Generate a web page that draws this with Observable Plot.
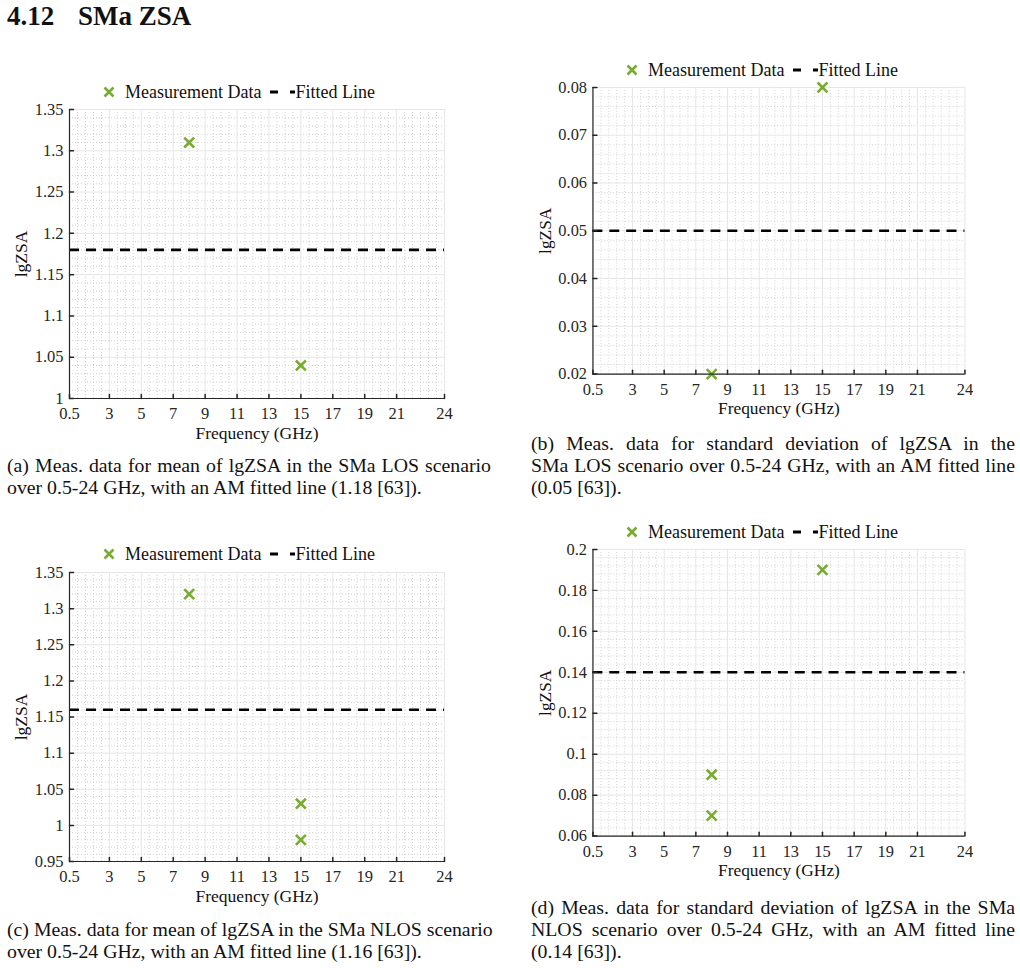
<!DOCTYPE html>
<html>
<head>
<meta charset="utf-8">
<script src="https://cdn.jsdelivr.net/npm/d3@7"></script>
<script src="https://cdn.jsdelivr.net/npm/@observablehq/plot@0.6"></script>
<style>
  body { margin: 0; background: #fff; width: 1020px; height: 968px; position: relative; overflow: hidden;
         font-family: "Liberation Serif", "DejaVu Serif", serif; color: #111; }
  .abs { position: absolute; }
  #title { left: 7px; top: 1px; font-size: 27px; font-weight: bold; white-space: nowrap; }
  #title .num { display: inline-block; width: 71px; }
  .legend { display: flex; align-items: center; font-size: 18px; white-space: nowrap; color: #111; height: 22px; }
  .legend svg { display: block; }
  .caption { font-size: 19.8px; line-height: 21.8px; width: 484px; }
  .caption div { text-align: justify; text-align-last: justify; white-space: nowrap; }
  .caption div.last { text-align-last: left; }
  .panel svg { overflow: visible; }
</style>
</head>
<body>
<div id="title" class="abs"><span class="num">4.12</span>SMa ZSA</div>
<div id="charts"></div>
<script>
// Frequency axis (GHz)
const xTicks = [0.5, 3, 5, 7, 9, 11, 13, 15, 17, 19, 21, 24];
const xMinor = d3.range(0.5, 24.001, 0.5).filter(v => !xTicks.includes(v));

// (a) mean of lgZSA, SMa LOS
const freqA = [8, 15];
const meanLos = [1.31, 1.04];
const fitMeanLos = 1.18;
const yTicksA = [1, 1.05, 1.1, 1.15, 1.2, 1.25, 1.3, 1.35];

// (b) standard deviation of lgZSA, SMa LOS
const freqB = [8, 15];
const stdLos = [0.02, 0.08];
const fitStdLos = 0.05;
const yTicksB = [0.02, 0.03, 0.04, 0.05, 0.06, 0.07, 0.08];

// (c) mean of lgZSA, SMa NLOS
const freqC = [8, 15, 15];
const meanNlos = [1.32, 1.03, 0.98];
const fitMeanNlos = 1.16;
const yTicksC = [0.95, 1, 1.05, 1.1, 1.15, 1.2, 1.25, 1.3, 1.35];

// (d) standard deviation of lgZSA, SMa NLOS
const freqD = [8, 8, 15];
const stdNlos = [0.09, 0.07, 0.19];
const fitStdNlos = 0.14;
const yTicksD = [0.06, 0.08, 0.1, 0.12, 0.14, 0.16, 0.18, 0.2];

const captions = {
  a: ["(a) Meas. data for mean of lgZSA in the SMa LOS scenario",
      "over 0.5-24 GHz, with an AM fitted line (1.18 [63])."],
  b: ["(b) Meas.  data for standard deviation of lgZSA in the",
      "SMa LOS scenario over 0.5-24 GHz, with an AM fitted line",
      "(0.05 [63])."],
  c: ["(c) Meas. data for mean of lgZSA in the SMa NLOS scenario",
      "over 0.5-24 GHz, with an AM fitted line (1.16 [63])."],
  d: ["(d) Meas. data for standard deviation of lgZSA in the SMa",
      "NLOS scenario over 0.5-24 GHz, with an AM fitted line",
      "(0.14 [63])."]
};

const GREEN = "#77ac30";
const AXIS = "#262626";

// minor grid: five subdivisions of each major step
function minorOf(ticks) {
  const step = ticks[1] - ticks[0];
  const out = [];
  for (let i = 0; i < ticks.length - 1; i++)
    for (let k = 1; k < 5; k++) out.push(ticks[i] + step * k / 5);
  return out;
}

// inward tick drawn as a short line
const tickShape = { draw(ctx, l) { ctx.moveTo(0, 0); ctx.lineTo(0, -l); } };

function makePanel(freq, vals, fit, yTicks) {
  const pts = freq.map((f, i) => ({ f, v: vals[i] }));
  const y0 = yTicks[0], y1 = yTicks[yTicks.length - 1];
  return Plot.plot({
    width: 500, height: 350,
    marginLeft: 69, marginRight: 56, marginTop: 9, marginBottom: 52,
    style: { fontFamily: "'Liberation Serif', serif", fontSize: "16.5px", color: AXIS, background: "transparent", overflow: "visible" },
    x: { domain: [0.5, 24], axis: null, label: null },
    y: { domain: [y0, y1], axis: null, label: null },
    marks: [
      Plot.gridX(xMinor, { stroke: "#d2d2d2", strokeOpacity: 1, strokeDasharray: "1,2" }),
      Plot.gridY(minorOf(yTicks), { stroke: "#d2d2d2", strokeOpacity: 1, strokeDasharray: "1,2" }),
      Plot.gridX(xTicks, { stroke: "#e6e6e6", strokeOpacity: 1 }),
      Plot.gridY(yTicks, { stroke: "#e6e6e6", strokeOpacity: 1 }),
      Plot.ruleY([fit], { stroke: "#000", strokeWidth: 2.6, strokeDasharray: "10,7" }),
      Plot.dot(pts, { x: "f", y: "v", symbol: "times", r: 4.6, stroke: GREEN, strokeWidth: 2.6 }),
      Plot.ruleX([0.5], { stroke: AXIS, strokeWidth: 1.2 }),
      Plot.ruleY([y0], { stroke: AXIS, strokeWidth: 1.2 }),
      Plot.vectorX(xTicks, { x: d => d, frameAnchor: "bottom", length: 4, rotate: 0, anchor: "start", shape: tickShape, stroke: AXIS }),
      Plot.vectorY(yTicks, { y: d => d, frameAnchor: "left", length: 4, rotate: 90, anchor: "start", shape: tickShape, stroke: AXIS }),
      Plot.axisX(xTicks, { tickSize: 0, tickPadding: 9, label: null, tickFormat: d => String(d), fill: AXIS }),
      Plot.axisY(yTicks, { tickSize: 0, tickPadding: 6, label: null, tickFormat: d => String(d), fill: AXIS }),
      Plot.text(["lgZSA"], { text: d => d, frameAnchor: "left", textAnchor: "middle", lineAnchor: "middle", dx: -48, rotate: -90, fill: "#111", fontSize: 17.5 }),
      Plot.text(["Frequency (GHz)"], { text: d => d, frameAnchor: "bottom", textAnchor: "middle", lineAnchor: "middle", dy: 35, fill: "#111", fontSize: 17.5 })
    ]
  });
}

function legend(left, top) {
  const div = document.createElement("div");
  div.className = "abs legend";
  div.style.left = left + "px";
  div.style.top = top + "px";
  div.innerHTML =
    `<svg width="12" height="12" viewBox="-6 -6 12 12"><path d="M-4.5,-4.5L4.5,4.5M4.5,-4.5L-4.5,4.5" stroke="${GREEN}" stroke-width="2.6"/></svg>` +
    `<span style="margin-left:10px">Measurement Data</span>` +
    `<svg width="25" height="12" style="margin-left:9px"><line x1="0" y1="6" x2="25" y2="6" stroke="#000" stroke-width="2.8" stroke-dasharray="8,12"/></svg>` +
    `<span>Fitted Line</span>`;
  return div;
}

function caption(lines, left, top) {
  const div = document.createElement("div");
  div.className = "abs caption";
  div.style.left = left + "px";
  div.style.top = top + "px";
  lines.forEach((t, i) => {
    const l = document.createElement("div");
    l.textContent = t;
    if (i === lines.length - 1) l.className = "last";
    div.appendChild(l);
  });
  return div;
}

const panels = [
  { freq: freqA, vals: meanLos,  fit: fitMeanLos,  ticks: yTicksA, left: 0,   top: 100, lg: [103, 81],  cap: captions.a, cp: [7, 455] },
  { freq: freqB, vals: stdLos,   fit: fitStdLos,   ticks: yTicksB, left: 524, top: 78,  lg: [626, 59],  cap: captions.b, cp: [531, 433] },
  { freq: freqC, vals: meanNlos, fit: fitMeanNlos, ticks: yTicksC, left: 0,   top: 563, lg: [103, 543], cap: captions.c, cp: [7, 919] },
  { freq: freqD, vals: stdNlos,  fit: fitStdNlos,  ticks: yTicksD, left: 524, top: 540, lg: [626, 521], cap: captions.d, cp: [531, 897] }
];

const root = document.getElementById("charts");
for (const p of panels) {
  const wrap = document.createElement("div");
  wrap.className = "abs panel";
  wrap.style.left = p.left + "px";
  wrap.style.top = p.top + "px";
  wrap.appendChild(makePanel(p.freq, p.vals, p.fit, p.ticks));
  root.appendChild(wrap);
  root.appendChild(legend(p.lg[0], p.lg[1]));
  root.appendChild(caption(p.cap, p.cp[0], p.cp[1]));
}
</script>
</body>
</html>
